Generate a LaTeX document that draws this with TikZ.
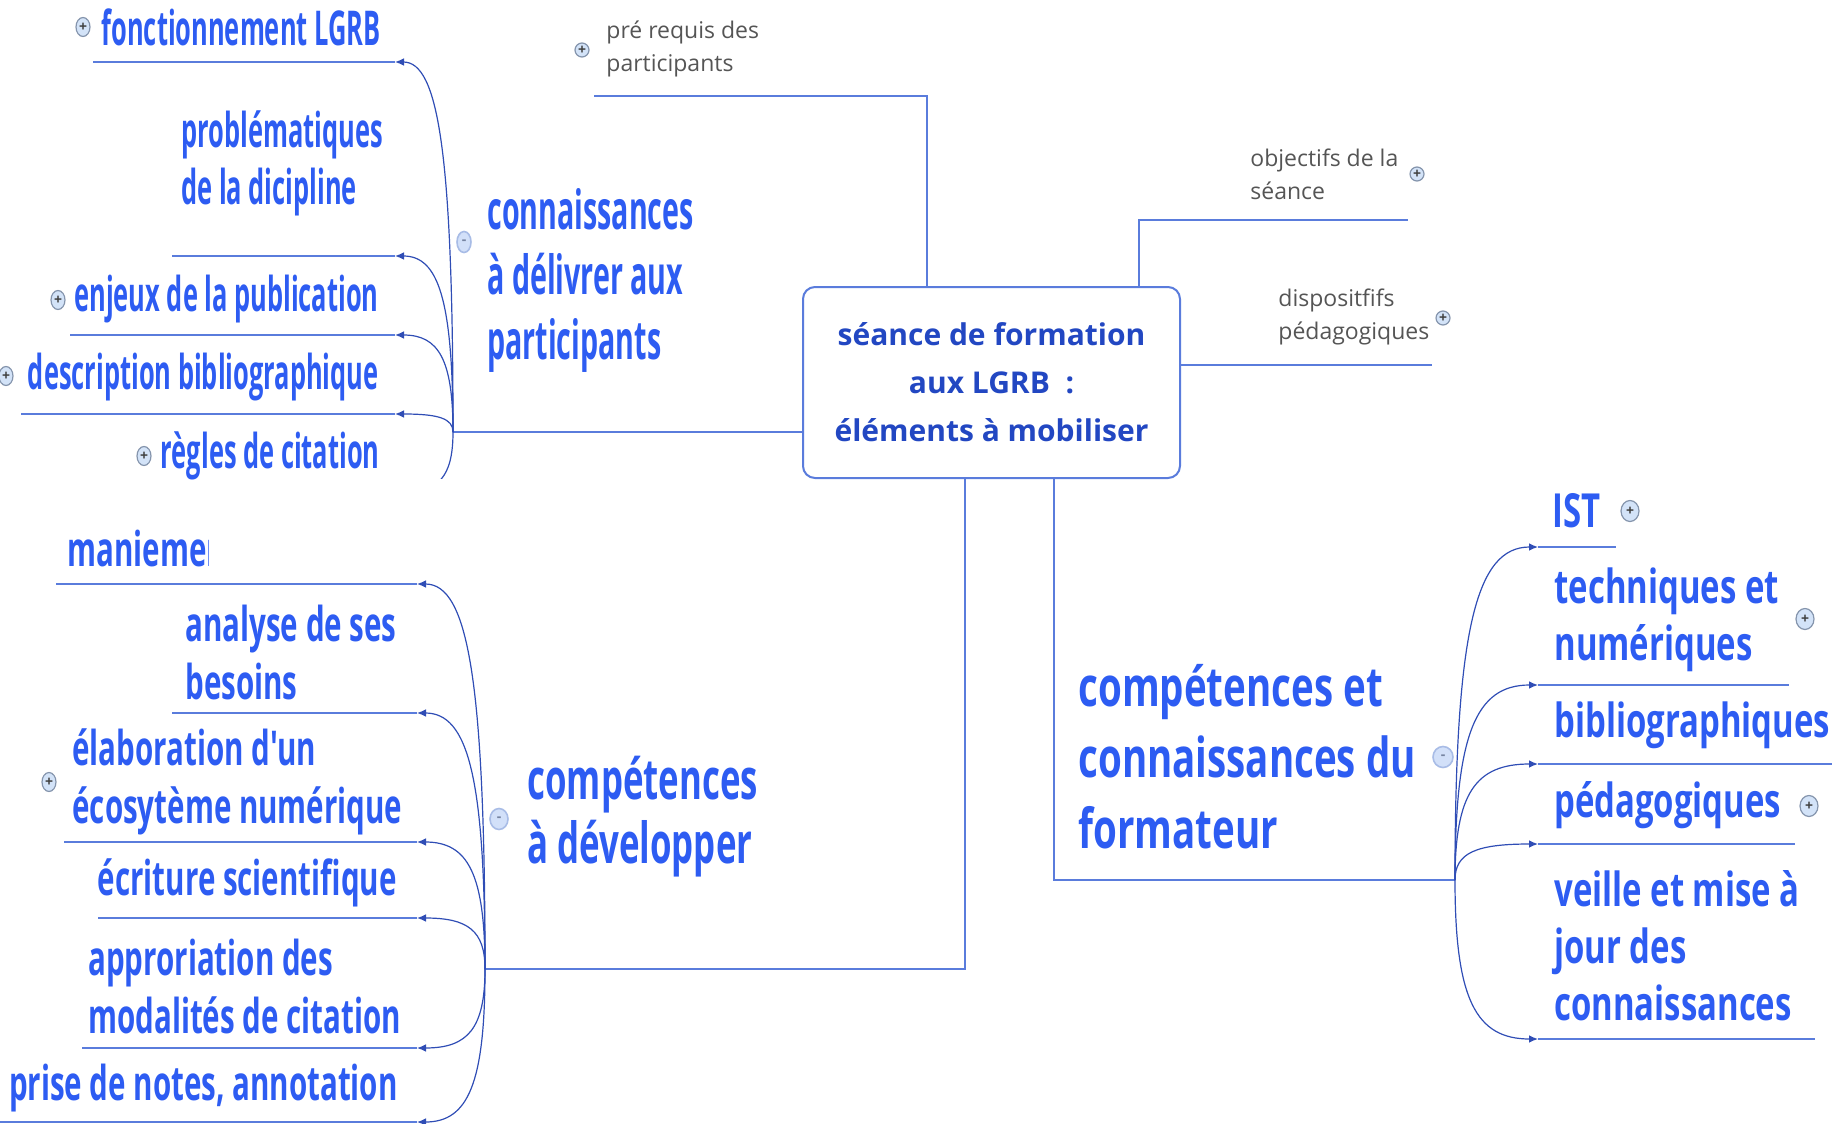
\documentclass[tikz,border=0pt]{standalone}
\usepackage{fontspec}
\setmainfont{Open Sans}
\newfontfamily\tlfont[FakeStretch=0.53]{Open Sans}
\newfontfamily\blfont[FakeStretch=0.615]{Open Sans}
\newfontfamily\rtfont[FakeStretch=0.70]{Open Sans}
\usepackage{tikz}
\usetikzlibrary{shapes.geometric, arrows.meta, calc}

\definecolor{mapblue}{HTML}{2D5CF2}
\definecolor{rootblue}{HTML}{2247C2}
\definecolor{linkblue}{HTML}{5A7CDC}
\definecolor{curveblue}{HTML}{2F4DB5}
\definecolor{greytext}{HTML}{555555}
\definecolor{iconfill}{HTML}{D3E3F8}
\definecolor{iconline}{HTML}{8494AC}
\definecolor{foldfill}{HTML}{D2E0F9}
\definecolor{foldline}{HTML}{A8BCE6}

\tikzset{
  link/.style={draw=linkblue, line width=1pt},
  uline/.style={draw=linkblue, line width=1.3pt},
  branch/.style={draw=curveblue, line width=0.6pt, -{Latex[length=4.5pt,width=3.8pt]},
    to path={.. controls ($(\tikztostart)!0.75!(\tikztostart|-\tikztotarget)$)
      and ($(\tikztotarget)!0.75!(\tikztostart|-\tikztotarget)$) .. (\tikztotarget)}},
  root/.style={draw=linkblue, line width=1pt, rounded corners=6pt, fill=white,
    minimum width=188.5pt, minimum height=95.5pt, inner sep=0pt, align=center,
    text=rootblue, font=\bfseries\fontsize{15}{24}\selectfont},
  tlhub/.style={anchor=west, align=left, inner sep=0pt, text=mapblue,
    font=\tlfont\bfseries\fontsize{27}{32.5}\selectfont},
  blhub/.style={anchor=west, align=left, inner sep=0pt, text=mapblue,
    font=\blfont\bfseries\fontsize{28.3}{32}\selectfont},
  rthub/.style={anchor=west, align=left, inner sep=0pt, text=mapblue,
    font=\rtfont\bfseries\fontsize{27.5}{35.5}\selectfont},
  tlleaf/.style={align=left, inner sep=0pt, text=mapblue,
    font=\tlfont\bfseries\fontsize{24}{28.5}\selectfont},
  blleaf/.style={align=left, inner sep=0pt, text=mapblue,
    font=\blfont\bfseries\fontsize{24}{29}\selectfont},
  rtleaf/.style={anchor=west, align=left, inner sep=0pt, text=mapblue,
    font=\rtfont\bfseries\fontsize{23.5}{28.5}\selectfont},
  note/.style={anchor=west, align=left, inner sep=0pt, text=greytext,
    font=\fontsize{11.5}{16.5}\selectfont},
  plusicon/.style={ellipse, draw=iconline, fill=iconfill, line width=0.6pt,
    minimum width=7pt, minimum height=9.5pt, inner sep=0pt, text=black!75,
    font=\bfseries\fontsize{7}{7}\selectfont},
  minusicon/.style={ellipse, draw=foldline, fill=foldfill, line width=0.8pt,
    minimum width=8pt, minimum height=10.5pt, inner sep=0pt, text=foldline!70!black,
    font=\bfseries\fontsize{7}{7}\selectfont}
}

\begin{document}
\begin{tikzpicture}[x=0.5pt, y=-0.5pt]
  \useasboundingbox (0,0) rectangle (1832,1124);
  \node [root] (root) at (991.5,382.5) {séance de formation\\aux LGRB~~:\\éléments à mobiliser};

  \coordinate (kh) at (453,432);
  \coordinate (ch) at (485,969);
  \coordinate (fh) at (1455,880);
  \coordinate (pre) at (594,96);
  \coordinate (prek) at (927,96);
  \coordinate (obj) at (1408,220);
  \coordinate (objk) at (1139,220);
  \coordinate (dis) at (1432,365);
  \coordinate (chk) at (965,969);
  \coordinate (fhk) at (1054,880);

  \draw [link] (root.north -| prek) -- (prek) -- (pre);
  \draw [link] (root.north -| objk) -- (objk) -- (obj);
  \draw [link] (root.east |- dis) -- (dis);
  \draw [link] (root.west |- kh) -- (kh);
  \draw [link] (root.south -| chk) -- (chk) -- (ch);
  \draw [link] (root.south -| fhk) -- (fhk) -- (fh);

  \node [note] (pret) at (606,49) {pré requis des\\participants};
  \node [plusicon, minimum height=7pt] (preI) at (582,50) {+};
  \node [note] (objt) at (1250,174) {objectifs de la\\séance};
  \node [plusicon, minimum height=7pt] (objI) at (1417,174) {+};
  \node [note] (dist) at (1278,317) {dispositfifs\\pédagogiques};
  \node [plusicon, minimum height=7pt] (disI) at (1443,318) {+};

  % connaissances a delivrer
  \node [tlhub] (kt) at (487,280) {connaissances\\à délivrer aux\\participants};
  \node [minusicon, minimum width=7pt] (kI) at (464,242) {-};
  \coordinate (tfonct) at (395,62);
  \coordinate (tprobl) at (395,256);
  \coordinate (tenjeux) at (395,335);
  \coordinate (tdescr) at (395,414);
  \coordinate (tregles) at (395,492);
  \node [tlleaf, anchor=east] (fonct) at (381,27) {fonctionnement LGRB};
  \node [plusicon] (fonctI) at (83,27) {+};
  \node [tlleaf, anchor=west] (probl) at (181,163) {problématiques\\de la dicipline};
  \node [tlleaf, anchor=east] (enjeux) at (379,299) {enjeux de la publication};
  \node [plusicon] (enjeuxI) at (58,300) {+};
  \node [tlleaf, anchor=east] (descr) at (379,377) {description bibliographique};
  \node [plusicon] (descrI) at (6,376) {+};
  \node [tlleaf, anchor=east] (regles) at (380,456) {règles de citation};
  \node [plusicon] (reglesI) at (144,456) {+};
  \draw [uline] (tfonct) -- +(-302,0);
  \draw [uline] (tprobl) -- +(-223,0);
  \draw [uline] (tenjeux) -- +(-325,0);
  \draw [uline] (tdescr) -- +(-374,0);
  \draw [branch] (kh) to (tfonct);
  \draw [branch] (kh) to (tprobl);
  \draw [branch] (kh) to (tenjeux);
  \draw [branch] (kh) to (tdescr);
  \begin{scope}
    \clip (380,400) rectangle (470,478);
    \draw [branch] (kh) to (tregles);
  \end{scope}

  % competences a developper
  \node [blhub] (ct) at (527,817) {compétences\\à développer};
  \node [minusicon, minimum width=9pt] (cI) at (499,819) {-};
  \coordinate (tmani) at (417,584);
  \coordinate (tanalyse) at (417,713);
  \coordinate (telab) at (417,842);
  \coordinate (tecri) at (417,918);
  \coordinate (tappro) at (417,1048);
  \coordinate (tprise) at (417,1122);
  \begin{scope}
    \clip (0,500) rectangle (208,620);
    \node [blleaf, anchor=west] (mani) at (67,548) {maniement};
  \end{scope}
  \node [blleaf, anchor=west] (analyse) at (185,652) {analyse de ses\\besoins};
  \node [blleaf, anchor=west] (elab) at (72,782) {élaboration d'un\\écosytème numérique};
  \node [plusicon] (elabI) at (49,782) {+};
  \node [blleaf, anchor=east] (ecri) at (397,883) {écriture scientifique};
  \node [blleaf, anchor=west] (appro) at (88,986) {approriation des\\modalités de citation};
  \node [blleaf, anchor=east] (prise) at (398,1088) {prise de notes, annotation};
  \draw [uline] (tmani) -- +(-361,0);
  \draw [uline] (tanalyse) -- +(-245,0);
  \draw [uline] (telab) -- +(-353,0);
  \draw [uline] (tecri) -- +(-319,0);
  \draw [uline] (tappro) -- +(-335,0);
  \draw [uline] (tprise) -- +(-417,0);
  \draw [branch] (ch) to (tmani);
  \draw [branch] (ch) to (tanalyse);
  \draw [branch] (ch) to (telab);
  \draw [branch] (ch) to (tecri);
  \draw [branch] (ch) to (tappro);
  \draw [branch] (ch) to (tprise);

  % competences du formateur
  \node [rthub] (ft) at (1078,757) {compétences et\\connaissances du\\formateur};
  \node [minusicon, minimum width=10pt] (fI) at (1443,757) {-};
  \coordinate (tist) at (1538,547);
  \coordinate (ttech) at (1538,685);
  \coordinate (tbiblio) at (1538,764);
  \coordinate (tpeda) at (1538,844);
  \coordinate (tveille) at (1538,1039);
  \node [rtleaf] (ist) at (1552,511) {IST};
  \node [plusicon, minimum width=9pt, minimum height=10.5pt] (istI) at (1630,511) {+};
  \node [rtleaf] (tech) at (1554,620) {techniques et\\numériques};
  \node [plusicon, minimum width=9pt, minimum height=10.5pt] (techI) at (1805,619) {+};
  \node [rtleaf] (biblio) at (1554,725) {bibliographiques};
  \node [rtleaf] (peda) at (1554,805) {pédagogiques};
  \node [plusicon, minimum width=9pt, minimum height=10.5pt] (pedaI) at (1809,806) {+};
  \node [rtleaf] (veille) at (1554,946) {veille et mise à\\jour des\\connaissances};
  \draw [uline] (tist) -- +(78,0);
  \draw [uline] (ttech) -- +(251,0);
  \draw [uline] (tbiblio) -- +(294,0);
  \draw [uline] (tpeda) -- +(257,0);
  \draw [uline] (tveille) -- +(277,0);
  \draw [branch] (fh) to (tist);
  \draw [branch] (fh) to (ttech);
  \draw [branch] (fh) to (tbiblio);
  \draw [branch] (fh) to (tpeda);
  \draw [branch] (fh) to (tveille);
\end{tikzpicture}
\end{document}
